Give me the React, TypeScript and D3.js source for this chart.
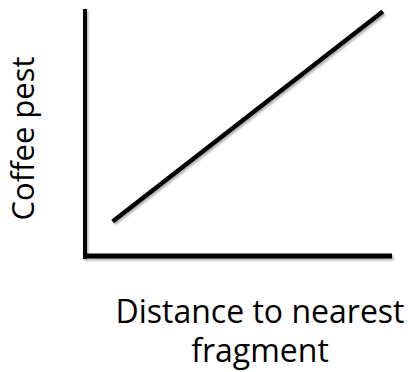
import React from "react";
import * as d3 from "d3";

// conceptual relationship: pest pressure rises with distance to forest fragment
const distance = [0.9, 9.7];
const pest = [1.4, 9.9];
const xDomain = [0, 10];
const yDomain = [0, 10];
const xTitle = ["Distance to nearest", "fragment"];
const yTitle = "Coffee pest";

const width = 408;
const height = 372;
const margin = { top: 9, right: 16, bottom: 116, left: 85 };

const App = () => {
  const xScale = d3
    .scaleLinear()
    .domain(xDomain)
    .range([margin.left, width - margin.right]);
  const yScale = d3
    .scaleLinear()
    .domain(yDomain)
    .range([height - margin.bottom, margin.top]);

  const points = distance.map((d, i) => [d, pest[i]]);
  const line = d3
    .line()
    .x((d) => xScale(d[0]))
    .y((d) => yScale(d[1]));

  const x0 = xScale(xDomain[0]);
  const y0 = yScale(yDomain[0]);

  return (
    <svg
      width={width}
      height={height}
      style={{ position: "absolute", left: 0, top: 0 }}
      fontFamily="'Open Sans', sans-serif"
    >
      <defs>
        <filter id="shadow" x="-10%" y="-10%" width="130%" height="130%">
          <feDropShadow dx="1.5" dy="2" stdDeviation="1.2" floodColor="#000" floodOpacity="0.3" />
        </filter>
      </defs>
      <rect width={width} height={height} fill="#fff" />
      <g filter="url(#shadow)">
        {/* y axis */}
        <line x1={x0} x2={x0} y1={yScale(yDomain[1])} y2={y0 + 3} stroke="#000" strokeWidth={4} />
        {/* x axis */}
        <line x1={x0 - 2} x2={xScale(xDomain[1])} y1={y0} y2={y0} stroke="#000" strokeWidth={5} />
        <path d={line(points)} fill="none" stroke="#000" strokeWidth={4.5} />
      </g>
      <text
        transform={`translate(34,${(54 + 223) / 2}) rotate(-90)`}
        textAnchor="middle"
        fontSize={31}
        fill="#000"
      >
        {yTitle}
      </text>
      {xTitle.map((t, i) => (
        <text key={t} x={260} y={323 + i * 39} textAnchor="middle" fontSize={32} fill="#000">
          {t}
        </text>
      ))}
    </svg>
  );
};

export default App;
